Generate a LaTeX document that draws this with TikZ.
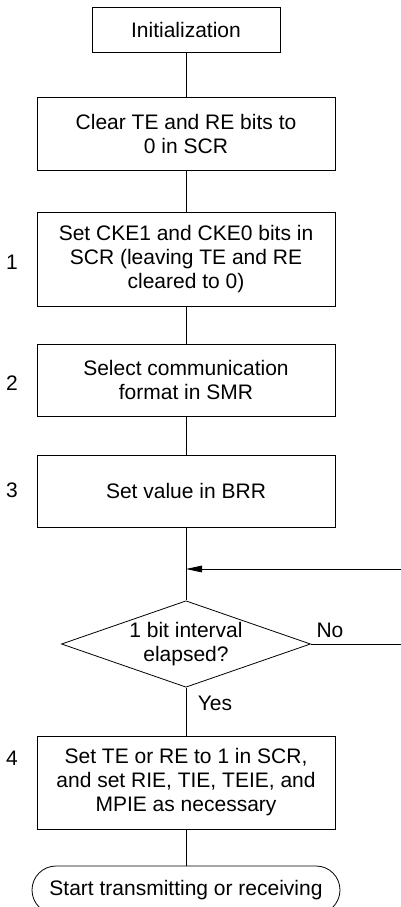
\documentclass[tikz,border=0pt]{standalone}
\usepackage{fontspec}
\setmainfont{Liberation Sans}
\usetikzlibrary{shapes.geometric,arrows.meta}

\begin{document}
\begin{tikzpicture}[x=0.75pt,y=-0.75pt,
    font=\fontsize{15.75}{18}\selectfont,
    every path/.style={line width=0.6pt},
    procbox/.style={draw,rectangle,align=center,inner sep=0pt,
      minimum width=298*0.75pt},
    decbox/.style={draw,diamond,aspect=2.88,align=center,inner sep=1pt,
      minimum width=248*0.75pt,minimum height=86*0.75pt},
    endbox/.style={draw,rectangle,rounded corners=18pt,inner sep=0pt,
      minimum width=308*0.75pt,minimum height=48*0.75pt}]
      \useasboundingbox (0,0) rectangle (400,907);

      % BOXES
      \node[procbox,minimum width=188*0.75pt,minimum height=45*0.75pt] (init) at (186,29.5) {Initialization};
      \node[procbox,minimum height=73*0.75pt] (clr) at (186,133.5) {Clear TE and RE bits to\\0 in SCR};
      \node[procbox,minimum height=94*0.75pt] (cke) at (186,259) {Set CKE1 and CKE0 bits in\\SCR (leaving TE and RE\\cleared to 0)};
      \node[procbox,minimum height=72*0.75pt] (fmt) at (186,380) {Select communication\\format in SMR};
      \node[procbox,minimum height=72*0.75pt] (brr) at (186,491) {Set value in BRR};
      \coordinate (join) at (186,569);
      \node[decbox] (dec) at (186,644) {1 bit interval\\elapsed?};
      \coordinate (loop) at (404,644);
      \node[procbox,minimum height=93*0.75pt] (ena) at (186,782.5) {Set TE or RE to 1 in SCR,\\and set RIE, TIE, TEIE, and\\MPIE as necessary};
      \node[endbox] (start) at (186,890) {Start transmitting or receiving};

      % NOTES
      \node (n1) at (12,262) {1};
      \node (n2) at (12,383) {2};
      \node (n3) at (12,490) {3};
      \node (n4) at (12,758) {4};
      \node (no) at (330,630) {No};
      \node (yes) at (215,703) {Yes};

      % ARROWS
      \draw (init) -- (clr);
      \draw (clr) -- (cke);
      \draw (cke) -- (fmt);
      \draw (fmt) -- (brr);
      \draw (brr) -- (dec);
      \draw[-{Triangle[length=12pt,width=5pt]}] (dec.east) -- (loop) |- (join);
      \draw (dec) -- (ena);
      \draw (ena) -- (start);
\end{tikzpicture}
\end{document}
